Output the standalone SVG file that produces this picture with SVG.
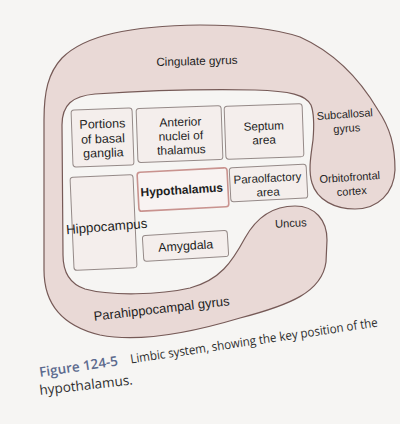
<svg xmlns="http://www.w3.org/2000/svg" width="400" height="424" viewBox="0 0 400 424">
<style>
.bg{fill:#f6f5f3}
.lobe{fill:#e9d9d6;stroke:#765a57;stroke-width:1.2}
.box{fill:#f4eeec;stroke:#958a88;stroke-width:1}
.hbox{fill:#f8f3f2;stroke:#c9938f;stroke-width:1.6}
.t{font-family:"Liberation Sans",Arial,sans-serif;fill:#1e1e1e;text-anchor:middle}
.tb{font-family:"Liberation Sans",Arial,sans-serif;fill:#1e1e1e;text-anchor:middle;font-weight:bold}
.cap{font-family:"Open Sans","Noto Sans",sans-serif;fill:#2e2e2e;font-size:13.5px}
.fig{font-family:"Open Sans","Noto Sans",sans-serif;fill:#5c6a8e;font-size:13.5px;font-weight:600}
</style>
<rect class="bg" x="0" y="0" width="400" height="424"/>
<g id="limbic-lobe">
<path class="lobe" d="M 313,140 C 311,155 308,170 312,183 C 317,200 335,209 355,209 C 378,209 394,193 395,170 C 395,145 390,128 378,110 C 365,88 340,55 300,37 C 270,27 235,25 200,25 C 130,26 85,35 62,58 C 48,73 44,92 44,120 L 44,270 C 44,300 58,325 100,335 C 140,343 190,333 240,318 C 290,305 322,292 326,262 L 327,240 C 327,220 315,206 295,206 C 270,206 255,220 245,238 C 232,262 220,280 190,288 C 160,295 110,296 85,289 C 70,284 63,272 63,255 L 62,125 C 62,105 72,96 95,94 C 140,91 200,89 255,90 C 290,91 306,95 311,105 C 314,113 314,128 313,140 Z"/>
<text class="t" font-size="11.7" x="197" y="65" transform="rotate(-1.5 197 65)">Cingulate gyrus</text>
<text class="t" font-size="11" x="345" y="118" transform="rotate(-4 345 118)">Subcallosal</text>
<text class="t" font-size="11" x="347" y="132" transform="rotate(-4 347 132)">gyrus</text>
<text class="t" font-size="11" x="350" y="181" transform="rotate(-4 350 181)">Orbitofrontal</text>
<text class="t" font-size="11" x="352" y="195" transform="rotate(-4 352 195)">cortex</text>
<text class="t" font-size="11.2" x="291" y="227" transform="rotate(-3 291 227)">Uncus</text>
<text class="t" font-size="13" x="162" y="313" transform="rotate(-6.5 162 313)">Parahippocampal gyrus</text>
</g>
<g id="portions-basal-ganglia">
<rect class="box" x="72" y="109" width="61" height="57" rx="3" transform="rotate(-2 102 137)"/>
<text class="t" font-size="12.5" transform="rotate(-2 103 142)"><tspan x="103" y="128">Portions</tspan><tspan x="103" y="143">of basal</tspan><tspan x="103" y="157">ganglia</tspan></text>
</g>
<g id="anterior-nuclei-thalamus">
<rect class="box" x="137" y="107" width="85" height="54" rx="3" transform="rotate(-2 180 134)"/>
<text class="t" font-size="12" transform="rotate(-2 181 140)"><tspan x="181" y="126">Anterior</tspan><tspan x="181" y="140">nuclei of</tspan><tspan x="181" y="154">thalamus</tspan></text>
</g>
<g id="septum-area">
<rect class="box" x="225" y="105" width="78" height="53" rx="3" transform="rotate(-2 264 131)"/>
<text class="t" font-size="11.7" transform="rotate(-2 264 137)"><tspan x="264" y="130">Septum</tspan><tspan x="264" y="144">area</tspan></text>
</g>
<g id="hippocampus">
<rect class="box" x="72" y="176" width="63" height="93" rx="3" transform="rotate(-2.5 104 222)"/>
<text class="t" font-size="13.3" x="107" y="231" transform="rotate(-4.5 107 231)">Hippocampus</text>
</g>
<g id="hypothalamus">
<rect class="hbox" x="138" y="170" width="90" height="39" rx="3" transform="rotate(-3 183 190)"/>
<text class="tb" font-size="12" x="182" y="194" transform="rotate(-3.5 182 194)">Hypothalamus</text>
</g>
<g id="paraolfactory-area">
<rect class="box" x="230" y="166" width="77" height="34" rx="3" transform="rotate(-3 268 183)"/>
<text class="t" font-size="11.5" transform="rotate(-3 268 189)"><tspan x="268" y="182">Paraolfactory</tspan><tspan x="268" y="196">area</tspan></text>
</g>
<g id="amygdala">
<rect class="box" x="143" y="233" width="85" height="26" rx="3" transform="rotate(-3.5 185 246)"/>
<text class="t" font-size="12.4" x="186" y="250" transform="rotate(-3.5 186 250)">Amygdala</text>
</g>
<g id="connectors"></g>
<g id="caption">
<g transform="translate(40,377) rotate(-8.5)">
<text class="fig" x="0" y="0">Figure 124-5</text>
<text class="cap" x="92" y="0" font-size="12.5" style="font-size:12.5px" textLength="250" lengthAdjust="spacingAndGlyphs">Limbic system, showing the key position of the</text>
</g>
<text class="cap" x="40" y="395" transform="rotate(-6.5 40 395)">hypothalamus.</text>
</g>
</svg>
